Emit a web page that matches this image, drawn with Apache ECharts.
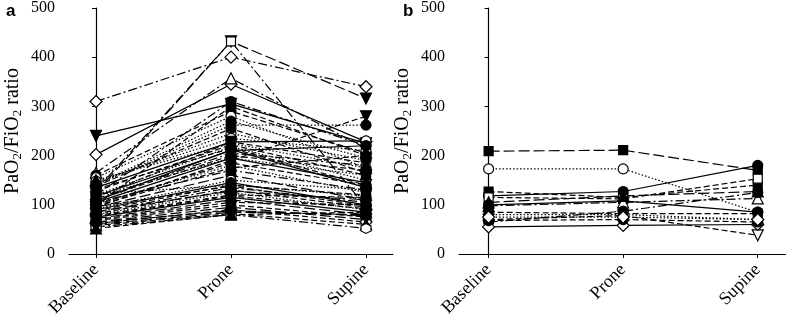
<!DOCTYPE html>
<html>
<head>
<meta charset="utf-8">
<script src="https://cdn.jsdelivr.net/npm/echarts@6/dist/echarts.min.js"></script>
<style>
  html, body { margin: 0; padding: 0; background: #fff; }
  #chart { width: 786px; height: 321px; }
</style>
</head>
<body>
<div id="chart"></div>
<script>
// 측정 시점
var categories = ['Baseline', 'Prone', 'Supine'];
var yTicks = [0, 100, 200, 300, 400, 500];

// a 패널 (환자별 PaO2/FiO2)
var aBaseline = [125, 310, 240, 202, 165, 95, 140, 160, 155, 145, 135, 128, 120, 118, 112, 110, 105, 100, 102, 98,
                 95, 92, 90, 88, 85, 82, 80, 78, 75, 72, 70, 68, 65, 62, 60, 58, 55, 52, 148, 138, 115, 108, 130, 100, 122,
                 150, 132, 118, 105, 96, 86, 76, 64, 142, 120];
var aProne    = [432, 400, 305, 345, 357, 190, 262, 290, 280, 245, 228, 222, 218, 210, 205, 200, 195, 185, 180, 175,
                 160, 150, 145, 140, 135, 130, 125, 120, 115, 110, 105, 100, 95, 90, 85, 82, 80, 80, 235, 255, 228, 212, 432, 300, 140,
                 225, 215, 195, 170, 138, 128, 118, 88, 270, 310];
var aSupine   = [316, 340, 225, 228, 215, 280, 262, 205, 175, 190, 230, 160, 150, 220, 180, 170, 145, 140, 125, 200,
                 110, 130, 100, 120, 105, 95, 90, 115, 85, 80, 100, 75, 70, 65, 80, 60, 52, 85, 210, 165, 185, 135, 95, 200, 118,
                 175, 140, 160, 130, 98, 110, 92, 78, 195, 220];
var aMarks = ['triDownFilled', 'diamondOpen', 'triDownFilled', 'diamondOpen', 'triOpen', 'triDownFilled', 'circleFilled', 'circleFilled', 'circleOpen', 'circleOpen',
              'circleOpen', 'triDownOpen', 'squareFilled', 'circleFilled', 'triFilled', 'circleFilled', 'triFilled', 'triDownOpen', 'squareOpen', 'squareFilled',
              'circleFilled', 'circleOpen', 'circleFilled', 'triFilled', 'squareFilled', 'circleFilled', 'diamondOpen', 'circleOpen', 'circleFilled', 'triDownOpen',
              'circleFilled', 'squareFilled', 'circleFilled', 'diamondOpen', 'circleFilled', 'triFilled', 'hexOpen', 'triFilled', 'circleOpen', 'circleFilled',
              'triDownFilled', 'hexFilled', 'squareOpen', 'circleFilled', 'squareFilled',
              'triFilled', 'circleFilled', 'squareFilled', 'circleFilled', 'circleFilled', 'squareFilled', 'triFilled', 'circleFilled', 'circleFilled', 'circleFilled'];
var aDash = ['longdash', 'dashdot', 'solid', 'solid', 'dashdot', 'dashed', 'dotted', 'dashed', 'dotted', 'dotted',
             'solid', 'dashed', 'dotted', 'solid', 'dashdot', 'dashed', 'solid', 'dashed', 'dotted', 'dashed',
             'longdash', 'dotted', 'solid', 'dashed', 'dashdot', 'dashed', 'dotted', 'dashed', 'solid', 'longdash',
             'dashed', 'dashed', 'longdash', 'dashed', 'longdash', 'dashed', 'dashdot', 'dashed', 'dotted', 'dashed',
             'dashed', 'solid', 'dashdot', 'dashed', 'dotted',
             'dotted', 'dashed', 'dotted', 'dashdot', 'dashed', 'longdash', 'dashed', 'longdash', 'dotted', 'dashdot'];

// b 패널
var bBaseline = [209, 173, 118, 127, 115, 100, 98, 80, 65, 70, 55, 85, 68, 75, 105];
var bProne    = [211, 173, 127, 115, 112, 108, 105, 80, 87, 78, 58, 82, 70, 75, 118];
var bSupine   = [170, 85, 180, 140, 153, 85, 113, 70, 125, 38, 60, 82, 65, 70, 127];
var bMarks = ['squareFilled', 'circleOpen', 'circleFilled', 'squareFilled', 'squareOpen', 'circleFilled', 'triOpen', 'triOpen',
              'circleFilled', 'triDownOpen', 'diamondOpen', 'squareFilled', 'circleFilled', 'diamondOpen', 'triFilled'];
var bDash = ['longdash', 'dotted', 'solid', 'dashed', 'dashed', 'solid', 'dashdot', 'dotted',
             'dashdot', 'dashed', 'solid', 'dashed', 'dashed', 'dotted', 'longdash'];

var HEX = 'path://M0,-10L8.66,-5L8.66,5L0,10L-8.66,5L-8.66,-5Z';
var symbols = {
  circleFilled: { symbol: 'circle', size: 10, fill: '#000' },
  circleOpen: { symbol: 'circle', size: 10, fill: '#fff' },
  squareFilled: { symbol: 'rect', size: 9, fill: '#000' },
  squareOpen: { symbol: 'rect', size: 9, fill: '#fff' },
  diamondOpen: { symbol: 'diamond', size: 12, fill: '#fff' },
  triFilled: { symbol: 'triangle', size: 11, fill: '#000' },
  triOpen: { symbol: 'triangle', size: 11, fill: '#fff' },
  triDownFilled: { symbol: 'triangle', size: 11, fill: '#000', rotate: 180 },
  triDownOpen: { symbol: 'triangle', size: 11, fill: '#fff', rotate: 180 },
  hexFilled: { symbol: HEX, size: 10, fill: '#000' },
  hexOpen: { symbol: HEX, size: 10, fill: '#fff' }
};
var dashes = {
  solid: 'solid',
  dashed: [6, 3],
  longdash: [11, 4],
  dotted: [1.5, 2],
  dashdot: [9, 3, 2, 3]
};

function makeSeries(base, prone, supine, marks, dash, idx) {
  return base.map(function (b, i) {
    var s = symbols[marks[i]];
    return {
      type: 'line',
      xAxisIndex: idx,
      yAxisIndex: idx,
      data: [[0, b], [1, prone[i]], [2, supine[i]]],
      symbol: s.symbol,
      symbolSize: s.size,
      symbolRotate: s.rotate || 0,
      showAllSymbol: true,
      lineStyle: { color: '#000', width: 1.2, type: dashes[dash[i]] },
      itemStyle: { color: s.fill, borderColor: '#000', borderWidth: 1.2 },
      emphasis: { disabled: true }
    };
  });
}

var serif = 'Liberation Serif';

function xAxis(idx, min, max) {
  return {
    type: 'value',
    gridIndex: idx,
    min: min,
    max: max,
    splitLine: { show: false },
    axisLine: { lineStyle: { color: '#000', width: 1.2 } },
    axisTick: { show: true, length: 4, customValues: [0, 1, 2], lineStyle: { color: '#000' } },
    axisLabel: {
      customValues: [0, 1, 2],
      rotate: 45,
      margin: 13,
      fontFamily: serif,
      fontSize: 18,
      color: '#000',
      formatter: function (v) { return categories[Math.round(v)]; }
    }
  };
}

function yAxis(idx) {
  return {
    type: 'value',
    gridIndex: idx,
    min: yTicks[0],
    max: yTicks[yTicks.length - 1],
    interval: 100,
    splitLine: { show: false },
    axisLine: { show: true, lineStyle: { color: '#000', width: 1.2 } },
    axisTick: { show: true, length: 4, lineStyle: { color: '#000' } },
    axisLabel: { margin: 14, fontFamily: serif, fontSize: 16, color: '#000' },
    name: 'PaO{s|2}/FiO{s|2} ratio',
    nameLocation: 'middle',
    nameRotate: 90,
    nameGap: 45,
    nameTextStyle: {
      fontFamily: serif,
      fontSize: 20,
      color: '#000',
      rich: { s: { fontFamily: serif, fontSize: 13, color: '#000', padding: [10, 0, 0, 0], verticalAlign: 'bottom' } }
    }
  };
}

var chart = echarts.init(document.getElementById('chart'));

var option = {
  animation: false,
  title: [
    { text: 'a', left: 1, top: -2, textStyle: { fontFamily: 'Liberation Sans', fontWeight: 'bold', fontSize: 17, color: '#000' } },
    { text: 'b', left: 398, top: -2, textStyle: { fontFamily: 'Liberation Sans', fontWeight: 'bold', fontSize: 17, color: '#000' } }
  ],
  grid: [
    { left: 69, top: 5, width: 324, bottom: 67 },
    { left: 459, top: 5, width: 327, bottom: 67 }
  ],
  xAxis: [xAxis(0, -0.2, 2.2), xAxis(1, -0.22, 2.21)],
  yAxis: [yAxis(0), yAxis(1)],
  series: makeSeries(aBaseline, aProne, aSupine, aMarks, aDash, 0)
    .concat(makeSeries(bBaseline, bProne, bSupine, bMarks, bDash, 1))
};

//  차트 옵션 설정하기
chart.setOption(option);
</script>
</body>
</html>
